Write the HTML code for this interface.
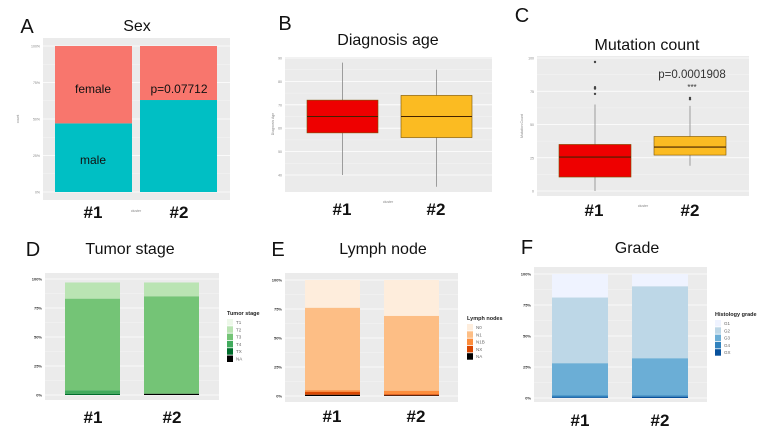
<!DOCTYPE html>
<html><head><meta charset="utf-8"><style>
html,body{margin:0;padding:0;background:#fff;width:767px;height:432px;overflow:hidden}
svg{display:block;font-family:"Liberation Sans",sans-serif}
</style></head><body>
<svg id="fig" width="767" height="432" viewBox="0 0 767 432" xmlns="http://www.w3.org/2000/svg"></svg>
<script>
// ---- data ----
const clusters = ["#1", "#2"];
// A: Sex (percent)
const sexMale = [47, 63];
const sexFemale = [53, 37];
const pctTicks = ["0%", "25%", "50%", "75%", "100%"];
// B: Diagnosis age box stats [min,q1,median,q3,max]
const ageStats = [[40, 58, 65, 72, 88], [35, 56, 65, 74, 85]];
const ageTicks = [40, 50, 60, 70, 80, 90];
// C: Mutation count
const mutStats = [[0, 10.5, 25.5, 35, 65], [19, 27, 33, 41, 64]];
const mutOutliers1 = [97, 78, 77, 73];
const mutOutliers2 = [70, 69];
const mutTicks = [0, 25, 50, 75, 100];
// D: Tumor stage
const stageCats = ["T1", "T2", "T3", "T4", "TX", "NA"];
const stage1 = [0, 14, 79, 3, 1, 0];
const stage2 = [0, 12, 84, 0, 0, 1];
// E: Lymph nodes
const nodeCats = ["N0", "N1", "N1B", "NX", "NA"];
const node1 = [24, 71, 1.5, 2.5, 1];
const node2 = [31, 64.5, 3, 1, 0.5];
// F: Grade
const gradeCats = ["G1", "G2", "G3", "G4", "GX"];
const grade1 = [19, 53, 26, 1.5, 0.5];
const grade2 = [10, 58, 30, 1, 1];

const NS = "http://www.w3.org/2000/svg";
const svg = document.getElementById("fig");
function mk(tag, attrs, parent, text) {
  const e = document.createElementNS(NS, tag);
  for (const k in attrs) e.setAttribute(k, attrs[k]);
  if (text !== undefined) e.textContent = text;
  (parent || svg).appendChild(e);
  return e;
}
function lin(d0, d1, r0, r1) { return v => r0 + (v - d0) * (r1 - r0) / (d1 - d0); }
function panel(name) {
  const g = mk("g", {});
  
  
  return g;
}
function bgGrid(g, x0, x1, y0, y1, ticks, ys, labels, lblSize, bold) {
  const r = mk("rect", {x: x0, y: y0, width: x1 - x0, height: y1 - y0, fill: "#ebebeb"}, g);
  
  
  for (let i = 0; i < ticks.length; i++) {
    const y = ys(ticks[i]);
    mk("line", {x1: x0, x2: x1, y1: y, y2: y, stroke: "#fff", "stroke-width": 0.8}, g);
    if (i < ticks.length - 1) {
      const ym = (y + ys(ticks[i + 1])) / 2;
      mk("line", {x1: x0, x2: x1, y1: ym, y2: ym, stroke: "#f5f5f5", "stroke-width": 0.5}, g);
    }
    const t = mk("text", {x: x0 - 3, y: y + 1.5, "font-size": lblSize, "text-anchor": "end", fill: bold ? "#333" : "#888", "font-weight": bold ? "bold" : "normal"}, g, labels[i]);
    
    
  }
}
function txt(g, x, y, s, size, name, extra) {
  const a = Object.assign({x: x, y: y, "font-size": size, "text-anchor": "middle", fill: "#111"}, extra || {});
  const t = mk("text", a, g, s);
  
  
  return t;
}
function xLabels(g, xs, y) {
  clusters.forEach((c, i) => {
    txt(g, xs[i], y, c, 17, 'x-tick-label', {"font-weight": "bold"});
  });
}

// ---------- A ----------
{
  const g = panel('panel-a-sex');
  txt(g, 27, 33, "A", 20, 'panel-letter', {});
  txt(g, 137, 31, "Sex", 16, 'chart-title');
  const ys = lin(0, 100, 192, 46);
  bgGrid(g, 43, 230, 38, 200, [0, 25, 50, 75, 100], ys, pctTicks, 3.5, false);
  const bx = [55, 140], bw = 77;
  clusters.forEach((c, i) => {
    const m = mk("rect", {x: bx[i], y: ys(sexMale[i]), width: bw, height: ys(0) - ys(sexMale[i]), fill: "#00bfc4"}, g);
    
    
    const f = mk("rect", {x: bx[i], y: ys(sexMale[i] + sexFemale[i]), width: bw, height: ys(sexMale[i]) - ys(sexMale[i] + sexFemale[i]), fill: "#f8766d"}, g);
    
    
  });
  txt(g, 93, 93, "female", 12, 'segment-label');
  txt(g, 93, 164, "male", 12, 'segment-label');
  txt(g, 179, 93, "p=0.07712", 12, 'p-value');
  txt(g, 19, 119, "count", 3.5, 'y-axis-title', {transform: "rotate(-90 19 119)", fill: "#888"});
  txt(g, 136, 212, "cluster", 3.5, 'x-axis-title', {fill: "#888"});
  xLabels(g, [93, 179], 218);
}

function boxPanel(g, stats, ys, bx, bw, colors) {
  stats.forEach((s, i) => {
    const cx = bx[i] + bw / 2;
    const w = mk("line", {x1: cx, x2: cx, y1: ys(s[0]), y2: ys(s[4]), stroke: "#888", "stroke-width": 0.8}, g);
    
    
    const b = mk("rect", {x: bx[i], y: ys(s[3]), width: bw, height: ys(s[1]) - ys(s[3]), fill: colors[i], stroke: "#7a5200", "stroke-width": 0.6}, g);
    
    
    const m = mk("line", {x1: bx[i], x2: bx[i] + bw, y1: ys(s[2]), y2: ys(s[2]), stroke: "#442200", "stroke-width": 1.1}, g);
    
    
  });
}

// ---------- B ----------
{
  const g = panel('panel-b-diagnosis-age');
  txt(g, 285, 30, "B", 20, 'panel-letter');
  txt(g, 388, 45, "Diagnosis age", 16, 'chart-title');
  const ys = lin(90, 40, 58, 175);
  bgGrid(g, 285, 492, 57, 192, ageTicks, ys, ageTicks, 3.5, false);
  boxPanel(g, ageStats, ys, [307, 401], 71, ["#ee0000", "#fbbb22"]);
  txt(g, 274, 124, "Diagnosis Age", 3.5, 'y-axis-title', {transform: "rotate(-90 274 124)", fill: "#888"});
  txt(g, 388, 203, "cluster", 3.5, 'x-axis-title', {fill: "#888"});
  xLabels(g, [342, 436], 215);
}

// ---------- C ----------
{
  const g = panel('panel-c-mutation-count');
  txt(g, 522, 22, "C", 20, 'panel-letter');
  txt(g, 647, 50, "Mutation count", 16, 'chart-title');
  const ys = lin(0, 100, 191, 58);
  bgGrid(g, 537, 749, 56, 196, mutTicks, ys, mutTicks, 3.5, false);
  const bx = [559, 654], bw = 72;
  boxPanel(g, mutStats, ys, bx, bw, ["#ee0000", "#fbbb22"]);
  [mutOutliers1, mutOutliers2].forEach((arr, i) => {
    arr.forEach(v => {
      const c = mk("circle", {cx: bx[i] + bw / 2, cy: ys(v), r: 1.2, fill: "#444"}, g);
      
      
    });
  });
  txt(g, 692, 78, "p=0.0001908", 11.5, 'p-value', {fill: "#333"});
  txt(g, 692, 90, "***", 8, 'significance-stars', {fill: "#333"});
  txt(g, 523, 126, "Mutation Count", 3.5, 'y-axis-title', {transform: "rotate(-90 523 126)", fill: "#888"});
  txt(g, 643, 207, "cluster", 3.5, 'x-axis-title', {fill: "#888"});
  xLabels(g, [594, 690], 216);
}

function stackPanel(g, series, cats, colors, ys, bx, bw, legX, legY, legTitle) {
  series.forEach((vals, i) => {
    let cum = vals.reduce((a, b) => a + b, 0);
    vals.forEach((v, k) => {
      if (v <= 0) return;
      const r = mk("rect", {x: bx[i], y: ys(cum), width: bw, height: ys(cum - v) - ys(cum), fill: colors[k]}, g);
      
      
      cum -= v;
    });
  });
  txt(g, legX, legY, legTitle, 5.5, 'legend-title', {"text-anchor": "start", "font-weight": "bold", fill: "#222"});
  cats.forEach((c, k) => {
    const y = legY + 4 + k * 7.3;
    const sw = mk("rect", {x: legX, y: y, width: 6, height: 6.5, fill: colors[k]}, g);
    
    
    txt(g, legX + 9, y + 5, c, 4.5, 'legend-entry', {"text-anchor": "start", fill: "#666"});
  });
}

// ---------- D ----------
{
  const g = panel('panel-d-tumor-stage');
  txt(g, 33, 256, "D", 20, 'panel-letter');
  txt(g, 130, 254, "Tumor stage", 16, 'chart-title');
  const ys = lin(0, 100, 395, 279);
  bgGrid(g, 45, 219, 273, 400, [0, 25, 50, 75, 100], ys, pctTicks, 4, true);
  stackPanel(g, [stage1, stage2], stageCats, ["#edf8e9", "#bae4b3", "#74c476", "#41ab5d", "#006d2c", "#000000"], ys, [65, 144], 55, 227, 315, "Tumor stage");
  xLabels(g, [93, 172], 423);
}

// ---------- E ----------
{
  const g = panel('panel-e-lymph-node');
  txt(g, 278, 256, "E", 20, 'panel-letter');
  txt(g, 383, 254, "Lymph node", 16, 'chart-title');
  const ys = lin(0, 100, 396, 280);
  bgGrid(g, 285, 458, 273, 402, [0, 25, 50, 75, 100], ys, pctTicks, 4, true);
  stackPanel(g, [node1, node2], nodeCats, ["#feeddc", "#fdbe85", "#fd8d3c", "#d94701", "#000000"], ys, [305, 384], 55, 467, 320, "Lymph nodes");
  xLabels(g, [332, 416], 422);
}

// ---------- F ----------
{
  const g = panel('panel-f-grade');
  txt(g, 527, 254, "F", 20, 'panel-letter');
  txt(g, 637, 253, "Grade", 16, 'chart-title');
  const ys = lin(0, 100, 398, 274);
  bgGrid(g, 534, 707, 267, 402, [0, 25, 50, 75, 100], ys, pctTicks, 4, true);
  stackPanel(g, [grade1, grade2], gradeCats, ["#eff3ff", "#bdd7e7", "#6baed6", "#3182bd", "#08519c"], ys, [552, 632], 56, 715, 316, "Histology grade");
  xLabels(g, [580, 660], 426);
}
</script>
</body></html>
